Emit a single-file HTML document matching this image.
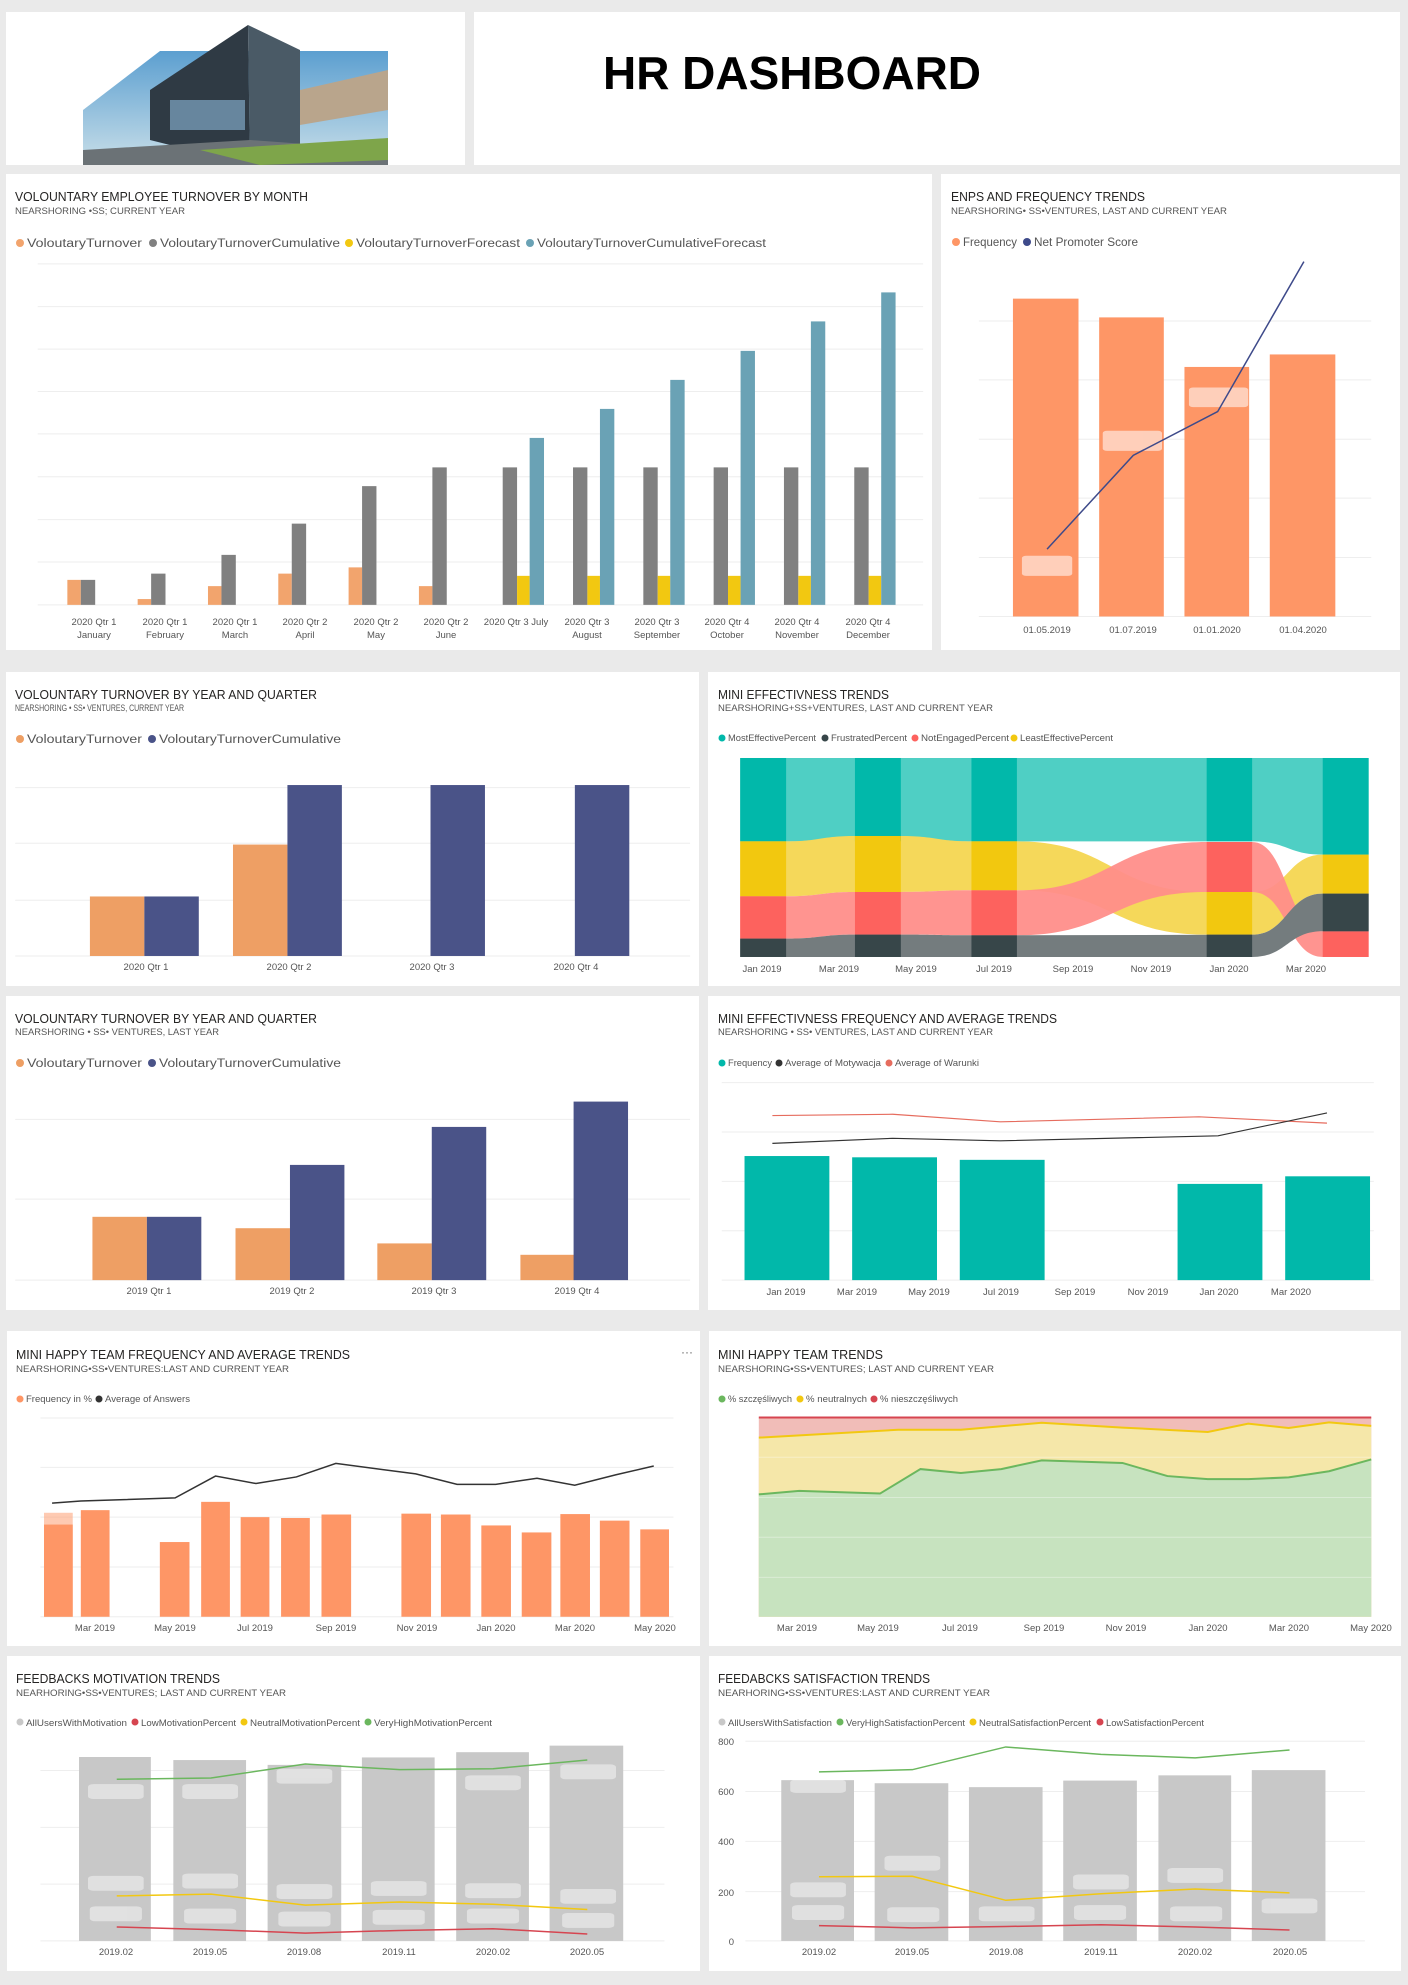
<!DOCTYPE html>
<html><head><meta charset="utf-8"><style>
html,body{margin:0;padding:0;background:#eaeaea;}
svg{display:block;font-family:"Liberation Sans",Arial,sans-serif;}
.t{font-size:13px;fill:#252423;}
.s{font-size:9.5px;fill:#555;}
.l{font-size:11.5px;fill:#555;}
.ls{font-size:9.5px;fill:#555;}
.ax{font-size:9.5px;fill:#555;text-anchor:middle;}
</style></head><body>
<svg width="1408" height="1985" viewBox="0 0 1408 1985" xmlns="http://www.w3.org/2000/svg">
<defs>
<filter id="bl"><feGaussianBlur stdDeviation="2"/></filter>
<linearGradient id="sky" x1="0" y1="0" x2="0" y2="1"><stop offset="0" stop-color="#5c9fd0"/><stop offset="1" stop-color="#c9dfe9"/></linearGradient>
</defs>
<rect width="1408" height="1985" fill="#eaeaea"/>
<!-- panels -->
<rect x="6" y="12" width="459" height="153" fill="#fff"/>
<rect x="474" y="12" width="926" height="153" fill="#fff"/>
<rect x="6" y="174" width="926" height="476" fill="#fff"/>
<rect x="941" y="174" width="459" height="476" fill="#fff"/>
<rect x="6" y="672" width="693" height="314" fill="#fff"/>
<rect x="708" y="672" width="692" height="314" fill="#fff"/>
<rect x="6" y="996" width="693" height="314" fill="#fff"/>
<rect x="708" y="996" width="692" height="314" fill="#fff"/>
<rect x="7" y="1331" width="693" height="315" fill="#fff"/>
<rect x="709" y="1331" width="692" height="315" fill="#fff"/>
<rect x="7" y="1656" width="693" height="315" fill="#fff"/>
<rect x="709" y="1656" width="692" height="315" fill="#fff"/>

<!-- header image -->
<rect x="83" y="51" width="305" height="114" fill="url(#sky)"/>
<polygon points="83,51 160,51 83,110" fill="#fff"/>
<polygon points="150,90 248,25 250,165 150,140" fill="#2f3a44"/>
<polygon points="248,25 300,50 300,150 250,165" fill="#4a5a66"/>
<polygon points="300,90 388,70 388,110 300,125" fill="#b9a58c"/>
<rect x="170" y="100" width="75" height="30" fill="#7fa7c4" opacity="0.7"/>
<polygon points="83,150 250,140 388,150 388,165 83,165" fill="#6b7276"/>
<polygon points="200,150 388,138 388,160 260,165" fill="#7ea54a"/>
<text x="792" y="89" text-anchor="middle" font-size="46" font-weight="bold" fill="#000" textLength="378" lengthAdjust="spacingAndGlyphs">HR DASHBOARD</text>

<!-- PANEL A -->
<text class="t" x="15" y="201" textLength="293" lengthAdjust="spacingAndGlyphs">VOLOUNTARY EMPLOYEE TURNOVER BY MONTH</text>
<text class="s" x="15" y="214" textLength="170" lengthAdjust="spacingAndGlyphs">NEARSHORING •SS; CURRENT YEAR</text>
<circle cx="20" cy="243" r="4" fill="#F2A46D"/><text class="l" x="27" y="247" textLength="115" lengthAdjust="spacingAndGlyphs">VoloutaryTurnover</text>
<circle cx="153" cy="243" r="4" fill="#808080"/><text class="l" x="160" y="247" textLength="180" lengthAdjust="spacingAndGlyphs">VoloutaryTurnoverCumulative</text>
<circle cx="349" cy="243" r="4" fill="#F2C811"/><text class="l" x="356" y="247" textLength="164" lengthAdjust="spacingAndGlyphs">VoloutaryTurnoverForecast</text>
<circle cx="530" cy="243" r="4" fill="#6AA2B5"/><text class="l" x="537" y="247" textLength="229" lengthAdjust="spacingAndGlyphs">VoloutaryTurnoverCumulativeForecast</text>
<g transform="scale(0.898,0.4464)">
<g stroke="#eee" stroke-width="1" vector-effect="non-scaling-stroke">
<line x1="42" x2="1028" y1="591" y2="591" vector-effect="non-scaling-stroke"/><line x1="42" x2="1028" y1="687" y2="687" vector-effect="non-scaling-stroke"/><line x1="42" x2="1028" y1="782" y2="782" vector-effect="non-scaling-stroke"/><line x1="42" x2="1028" y1="877" y2="877" vector-effect="non-scaling-stroke"/><line x1="42" x2="1028" y1="972" y2="972" vector-effect="non-scaling-stroke"/><line x1="42" x2="1028" y1="1068" y2="1068" vector-effect="non-scaling-stroke"/><line x1="42" x2="1028" y1="1164" y2="1164" vector-effect="non-scaling-stroke"/><line x1="42" x2="1028" y1="1259" y2="1259" vector-effect="non-scaling-stroke"/><line x1="42" x2="1028" y1="1355" y2="1355" vector-effect="non-scaling-stroke"/>
</g>
<g fill="#F2A46D">
<rect x="75" y="1299" width="15" height="56"/><rect x="153.3" y="1342" width="15" height="13"/><rect x="231.6" y="1313" width="15" height="42"/><rect x="309.9" y="1285" width="15" height="70"/><rect x="388.2" y="1271" width="15" height="84"/><rect x="466.5" y="1313" width="15" height="42"/>
</g>
<g fill="#808080">
<rect x="90" y="1299" width="16" height="56"/><rect x="168.3" y="1285" width="16" height="70"/><rect x="246.6" y="1243" width="16" height="112"/><rect x="324.9" y="1173" width="16" height="182"/><rect x="403.2" y="1089" width="16" height="266"/><rect x="481.5" y="1047" width="16" height="308"/>
<rect x="559.8" y="1047" width="16" height="308"/><rect x="638.1" y="1047" width="16" height="308"/><rect x="716.4" y="1047" width="16" height="308"/><rect x="794.7" y="1047" width="16" height="308"/><rect x="873" y="1047" width="16" height="308"/><rect x="951.3" y="1047" width="16" height="308"/>
</g>
<g fill="#F2C811">
<rect x="575.8" y="1290" width="14" height="65"/><rect x="654.1" y="1290" width="14" height="65"/><rect x="732.4" y="1290" width="14" height="65"/><rect x="810.7" y="1290" width="14" height="65"/><rect x="889" y="1290" width="14" height="65"/><rect x="967.3" y="1290" width="14" height="65"/>
</g>
<g fill="#6AA2B5">
<rect x="589.8" y="981" width="16" height="374"/><rect x="668.1" y="916" width="16" height="439"/><rect x="746.4" y="851" width="16" height="504"/><rect x="824.7" y="786" width="16" height="569"/><rect x="903" y="720" width="16" height="635"/><rect x="981.3" y="655" width="16" height="700"/>
</g>
<!-- panel B -->
<g stroke="#eee" stroke-width="1">
<line x1="1090" x2="1527" y1="719" y2="719" vector-effect="non-scaling-stroke"/><line x1="1090" x2="1527" y1="851" y2="851" vector-effect="non-scaling-stroke"/><line x1="1090" x2="1527" y1="984" y2="984" vector-effect="non-scaling-stroke"/><line x1="1090" x2="1527" y1="1116" y2="1116" vector-effect="non-scaling-stroke"/><line x1="1090" x2="1527" y1="1249" y2="1249" vector-effect="non-scaling-stroke"/><line x1="1090" x2="1527" y1="1381" y2="1381" vector-effect="non-scaling-stroke"/>
</g>
<g fill="#FE9666">
<rect x="1128" y="669" width="73" height="712"/><rect x="1224" y="711" width="72" height="670"/><rect x="1319" y="822" width="72" height="559"/><rect x="1414" y="794" width="73" height="587"/>
</g>
<g fill="#fff" opacity="0.55"><rect x="1138" y="1245" width="56" height="45" rx="5"/><rect x="1228" y="965" width="66" height="45" rx="5"/><rect x="1324" y="868" width="66" height="44" rx="5"/></g>
<polyline points="1166,1230 1262,1020 1356,922 1452,586" fill="none" stroke="#3E4A8A" stroke-width="1.5" vector-effect="non-scaling-stroke"/>
</g>
<g class="ax" font-size="9">
<text x="94" y="625">2020 Qtr 1</text><text x="94" y="638">January</text>
<text x="165" y="625">2020 Qtr 1</text><text x="165" y="638">February</text>
<text x="235" y="625">2020 Qtr 1</text><text x="235" y="638">March</text>
<text x="305" y="625">2020 Qtr 2</text><text x="305" y="638">April</text>
<text x="376" y="625">2020 Qtr 2</text><text x="376" y="638">May</text>
<text x="446" y="625">2020 Qtr 2</text><text x="446" y="638">June</text>
<text x="516" y="625">2020 Qtr 3 July</text>
<text x="587" y="625">2020 Qtr 3</text><text x="587" y="638">August</text>
<text x="657" y="625">2020 Qtr 3</text><text x="657" y="638">September</text>
<text x="727" y="625">2020 Qtr 4</text><text x="727" y="638">October</text>
<text x="797" y="625">2020 Qtr 4</text><text x="797" y="638">November</text>
<text x="868" y="625">2020 Qtr 4</text><text x="868" y="638">December</text>
</g>
<text class="t" x="951" y="201" textLength="194" lengthAdjust="spacingAndGlyphs">ENPS AND FREQUENCY TRENDS</text>
<text class="s" x="951" y="214" textLength="276" lengthAdjust="spacingAndGlyphs">NEARSHORING• SS•VENTURES, LAST AND CURRENT YEAR</text>
<circle cx="956" cy="242" r="4" fill="#FE9666"/><text class="l" x="963" y="246" textLength="54" lengthAdjust="spacingAndGlyphs">Frequency</text>
<circle cx="1027" cy="242" r="4" fill="#3E4A8A"/><text class="l" x="1034" y="246" textLength="104" lengthAdjust="spacingAndGlyphs">Net Promoter Score</text>
<g class="ax" font-size="12" fill="#555"><text x="1047" y="633">01.05.2019</text><text x="1133" y="633">01.07.2019</text><text x="1217" y="633">01.01.2020</text><text x="1303" y="633">01.04.2020</text></g>

<!-- ROW 2 LEFT -->
<text class="t" x="15" y="699" textLength="302" lengthAdjust="spacingAndGlyphs">VOLOUNTARY TURNOVER BY YEAR AND QUARTER</text>
<text class="s" x="15" y="711" textLength="169" lengthAdjust="spacingAndGlyphs">NEARSHORING • SS• VENTURES, CURRENT YEAR</text>
<circle cx="20" cy="739" r="4" fill="#EE9F64"/><text class="l" x="27" y="743" textLength="115" lengthAdjust="spacingAndGlyphs">VoloutaryTurnover</text>
<circle cx="152" cy="739" r="4" fill="#4A5388"/><text class="l" x="159" y="743" textLength="182" lengthAdjust="spacingAndGlyphs">VoloutaryTurnoverCumulative</text>
<g transform="scale(1.2662)">
<g stroke="#eee" stroke-width="0.8"><line x1="12" x2="545" y1="622" y2="622"/><line x1="12" x2="545" y1="666" y2="666"/><line x1="12" x2="545" y1="711" y2="711"/><line x1="12" x2="545" y1="755" y2="755"/></g>
<g fill="#EE9F64"><rect x="71" y="708" width="43" height="47"/><rect x="184" y="667" width="43" height="88"/></g>
<g fill="#4A5388"><rect x="114" y="708" width="43" height="47"/><rect x="227" y="620" width="43" height="135"/><rect x="340" y="620" width="43" height="135"/><rect x="454" y="620" width="43" height="135"/></g>
<!-- ROW 3 LEFT -->
<g stroke="#eee" stroke-width="0.8"><line x1="12" x2="545" y1="884" y2="884"/><line x1="12" x2="545" y1="947" y2="947"/><line x1="12" x2="545" y1="1011" y2="1011"/></g>
<g fill="#EE9F64"><rect x="73" y="961" width="43" height="50"/><rect x="186" y="970" width="43" height="41"/><rect x="298" y="982" width="43" height="29"/><rect x="411" y="991" width="43" height="20"/></g>
<g fill="#4A5388"><rect x="116" y="961" width="43" height="50"/><rect x="229" y="920" width="43" height="91"/><rect x="341" y="890" width="43" height="121"/><rect x="453" y="870" width="43" height="141"/></g>
<!-- ROW 3 RIGHT -->
<g stroke="#eee" stroke-width="0.8"><line x1="570" x2="1085" y1="855" y2="855"/><line x1="570" x2="1085" y1="894" y2="894"/><line x1="570" x2="1085" y1="933" y2="933"/><line x1="570" x2="1085" y1="972" y2="972"/><line x1="570" x2="1085" y1="1011" y2="1011"/></g>
<g fill="#01B8AA"><rect x="588" y="913" width="67" height="98"/><rect x="673" y="914" width="67" height="97"/><rect x="758" y="916" width="67" height="95"/><rect x="930" y="935" width="67" height="76"/><rect x="1015" y="929" width="67" height="82"/></g>
<polyline points="610,881 705,880 790,886 947,882 1048,887" fill="none" stroke="#E66C5E" stroke-width="0.9"/>
<polyline points="610,903 705,899 790,901 962,897 1048,879" fill="none" stroke="#333" stroke-width="0.9"/>
</g>
<g class="ax"><text x="146" y="970">2020 Qtr 1</text><text x="289" y="970">2020 Qtr 2</text><text x="432" y="970">2020 Qtr 3</text><text x="576" y="970">2020 Qtr 4</text></g>
<text class="t" x="15" y="1023" textLength="302" lengthAdjust="spacingAndGlyphs">VOLOUNTARY TURNOVER BY YEAR AND QUARTER</text>
<text class="s" x="15" y="1035" textLength="204" lengthAdjust="spacingAndGlyphs">NEARSHORING • SS• VENTURES, LAST YEAR</text>
<circle cx="20" cy="1063" r="4" fill="#EE9F64"/><text class="l" x="27" y="1067" textLength="115" lengthAdjust="spacingAndGlyphs">VoloutaryTurnover</text>
<circle cx="152" cy="1063" r="4" fill="#4A5388"/><text class="l" x="159" y="1067" textLength="182" lengthAdjust="spacingAndGlyphs">VoloutaryTurnoverCumulative</text>
<g class="ax"><text x="149" y="1294">2019 Qtr 1</text><text x="292" y="1294">2019 Qtr 2</text><text x="434" y="1294">2019 Qtr 3</text><text x="577" y="1294">2019 Qtr 4</text></g>
<text class="t" x="718" y="1023" textLength="339" lengthAdjust="spacingAndGlyphs">MINI EFFECTIVNESS FREQUENCY AND AVERAGE TRENDS</text>
<text class="s" x="718" y="1035" textLength="275" lengthAdjust="spacingAndGlyphs">NEARSHORING • SS• VENTURES, LAST AND CURRENT YEAR</text>
<circle cx="722" cy="1063" r="3.5" fill="#01B8AA"/><text class="ls" x="728" y="1066" textLength="44" lengthAdjust="spacingAndGlyphs">Frequency</text>
<circle cx="779" cy="1063" r="3.5" fill="#333"/><text class="ls" x="785" y="1066" textLength="96" lengthAdjust="spacingAndGlyphs">Average of Motywacja</text>
<circle cx="889" cy="1063" r="3.5" fill="#E66C5E"/><text class="ls" x="895" y="1066" textLength="84" lengthAdjust="spacingAndGlyphs">Average of Warunki</text>
<g class="ax"><text x="786" y="1295">Jan 2019</text><text x="857" y="1295">Mar 2019</text><text x="929" y="1295">May 2019</text><text x="1001" y="1295">Jul 2019</text><text x="1075" y="1295">Sep 2019</text><text x="1148" y="1295">Nov 2019</text><text x="1219" y="1295">Jan 2020</text><text x="1291" y="1295">Mar 2020</text></g>

<!-- ROW 2 RIGHT ribbon -->
<text class="t" x="718" y="699" textLength="171" lengthAdjust="spacingAndGlyphs">MINI EFFECTIVNESS TRENDS</text>
<text class="s" x="718" y="711" textLength="275" lengthAdjust="spacingAndGlyphs">NEARSHORING+SS+VENTURES, LAST AND CURRENT YEAR</text>
<circle cx="722" cy="738" r="3.5" fill="#01B8AA"/><text class="ls" x="728" y="741" textLength="88" lengthAdjust="spacingAndGlyphs">MostEffectivePercent</text>
<circle cx="825" cy="738" r="3.5" fill="#374649"/><text class="ls" x="831" y="741" textLength="76" lengthAdjust="spacingAndGlyphs">FrustratedPercent</text>
<circle cx="915" cy="738" r="3.5" fill="#FD625E"/><text class="ls" x="921" y="741" textLength="88" lengthAdjust="spacingAndGlyphs">NotEngagedPercent</text>
<circle cx="1014" cy="738" r="3.5" fill="#F2C80F"/><text class="ls" x="1020" y="741" textLength="93" lengthAdjust="spacingAndGlyphs">LeastEffectivePercent</text>
<g transform="translate(708,672) scale(0.4413,0.3333)">
<path fill="#4FCFC4" d="M73,258 L1497,258 L1497,548 L1393,548 C1313,548 1313,508 1233,508 L73,508 Z"/>
<path fill="#F5D85A" d="M73,508 L177,508 C255,508 255,492 333,492 L437,492 C517,492 517,508 597,508 L700,508 C915,508 915,660 1130,660 L1233,660 C1313,660 1313,548 1393,548 L1497,548 L1497,665 L1393,665 C1313,665 1313,788 1233,788 L1130,788 C915,788 915,655 700,655 L597,655 C517,655 517,660 437,660 L333,660 C255,660 255,673 177,673 L73,673 Z"/>
<path fill="#FF8E8A" opacity="0.95" d="M73,673 L177,673 C255,673 255,660 333,660 L437,660 C517,660 517,655 597,655 L700,655 C915,655 915,510 1130,510 L1233,510 C1313,510 1313,778 1393,778 L1497,778 L1497,855 L1393,855 C1313,855 1313,660 1233,660 L1130,660 C915,660 915,790 700,790 L597,790 C517,790 517,788 437,788 L333,788 C255,788 255,800 177,800 L73,800 Z"/>
<path fill="#747C7E" d="M73,800 L177,800 C255,800 255,788 333,788 L437,788 C517,788 517,790 597,790 L700,790 L1233,788 C1313,788 1313,665 1393,665 L1497,665 L1497,778 L1393,778 C1313,778 1313,855 1233,855 L73,855 Z"/>
<g fill="#01B8AA"><rect x="73" y="258" width="104" height="250"/><rect x="333" y="258" width="104" height="250"/><rect x="597" y="258" width="103" height="250"/><rect x="1130" y="258" width="103" height="250"/><rect x="1393" y="258" width="104" height="290"/></g>
<g fill="#F2C80F"><rect x="73" y="508" width="104" height="165"/><rect x="333" y="492" width="104" height="168"/><rect x="597" y="508" width="103" height="147"/><rect x="1130" y="660" width="103" height="128"/><rect x="1393" y="548" width="104" height="117"/></g>
<g fill="#FD625E"><rect x="73" y="673" width="104" height="127"/><rect x="333" y="660" width="104" height="128"/><rect x="597" y="655" width="103" height="135"/><rect x="1130" y="510" width="103" height="150"/><rect x="1393" y="778" width="104" height="77"/></g>
<g fill="#374649"><rect x="73" y="800" width="104" height="55"/><rect x="333" y="788" width="104" height="67"/><rect x="597" y="790" width="103" height="65"/><rect x="1130" y="788" width="103" height="67"/><rect x="1393" y="665" width="104" height="113"/></g>
</g>
<g class="ax"><text x="762" y="972">Jan 2019</text><text x="839" y="972">Mar 2019</text><text x="916" y="972">May 2019</text><text x="994" y="972">Jul 2019</text><text x="1073" y="972">Sep 2019</text><text x="1151" y="972">Nov 2019</text><text x="1229" y="972">Jan 2020</text><text x="1306" y="972">Mar 2020</text></g>

<!-- ROW 4 & 5 -->
<text class="t" x="16" y="1359" textLength="334" lengthAdjust="spacingAndGlyphs">MINI HAPPY TEAM FREQUENCY AND AVERAGE TRENDS</text>
<text class="s" x="16" y="1372" textLength="273" lengthAdjust="spacingAndGlyphs">NEARSHORING•SS•VENTURES:LAST AND CURRENT YEAR</text>
<text x="681" y="1356" font-size="12" fill="#666">···</text>
<circle cx="20" cy="1399" r="3.5" fill="#FE9666"/><text class="ls" x="26" y="1402" textLength="66" lengthAdjust="spacingAndGlyphs">Frequency in %</text>
<circle cx="99" cy="1399" r="3.5" fill="#333"/><text class="ls" x="105" y="1402" textLength="85" lengthAdjust="spacingAndGlyphs">Average of Answers</text>
<text class="t" x="718" y="1359" textLength="165" lengthAdjust="spacingAndGlyphs">MINI HAPPY TEAM TRENDS</text>
<text class="s" x="718" y="1372" textLength="276" lengthAdjust="spacingAndGlyphs">NEARSHORING•SS•VENTURES; LAST AND CURRENT YEAR</text>
<circle cx="722" cy="1399" r="3.5" fill="#6BB75E"/><text class="ls" x="728" y="1402" textLength="64" lengthAdjust="spacingAndGlyphs">% szczęśliwych</text>
<circle cx="800" cy="1399" r="3.5" fill="#F2C811"/><text class="ls" x="806" y="1402" textLength="61" lengthAdjust="spacingAndGlyphs">% neutralnych</text>
<circle cx="874" cy="1399" r="3.5" fill="#D64550"/><text class="ls" x="880" y="1402" textLength="78" lengthAdjust="spacingAndGlyphs">% nieszczęśliwych</text>

<text class="t" x="16" y="1683" textLength="204" lengthAdjust="spacingAndGlyphs">FEEDBACKS MOTIVATION TRENDS</text>
<text class="s" x="16" y="1696" textLength="270" lengthAdjust="spacingAndGlyphs">NEARHORING•SS•VENTURES; LAST AND CURRENT YEAR</text>
<circle cx="20" cy="1722" r="3.5" fill="#C8C8C8"/><text class="ls" x="26" y="1726" textLength="101" lengthAdjust="spacingAndGlyphs">AllUsersWithMotivation</text>
<circle cx="135" cy="1722" r="3.5" fill="#D64550"/><text class="ls" x="141" y="1726" textLength="95" lengthAdjust="spacingAndGlyphs">LowMotivationPercent</text>
<circle cx="244" cy="1722" r="3.5" fill="#F2C811"/><text class="ls" x="250" y="1726" textLength="110" lengthAdjust="spacingAndGlyphs">NeutralMotivationPercent</text>
<circle cx="368" cy="1722" r="3.5" fill="#6BB75E"/><text class="ls" x="374" y="1726" textLength="118" lengthAdjust="spacingAndGlyphs">VeryHighMotivationPercent</text>
<text class="t" x="718" y="1683" textLength="212" lengthAdjust="spacingAndGlyphs">FEEDABCKS SATISFACTION TRENDS</text>
<text class="s" x="718" y="1696" textLength="272" lengthAdjust="spacingAndGlyphs">NEARHORING•SS•VENTURES:LAST AND CURRENT YEAR</text>
<circle cx="722" cy="1722" r="3.5" fill="#C8C8C8"/><text class="ls" x="728" y="1726" textLength="104" lengthAdjust="spacingAndGlyphs">AllUsersWithSatisfaction</text>
<circle cx="840" cy="1722" r="3.5" fill="#6BB75E"/><text class="ls" x="846" y="1726" textLength="119" lengthAdjust="spacingAndGlyphs">VeryHighSatisfactionPercent</text>
<circle cx="973" cy="1722" r="3.5" fill="#F2C811"/><text class="ls" x="979" y="1726" textLength="112" lengthAdjust="spacingAndGlyphs">NeutralSatisfactionPercent</text>
<circle cx="1100" cy="1722" r="3.5" fill="#D64550"/><text class="ls" x="1106" y="1726" textLength="98" lengthAdjust="spacingAndGlyphs">LowSatisfactionPercent</text>

<g transform="translate(0,1300) scale(0.898,0.4369)">
<!-- row4 left -->
<g stroke="#eee"><line x1="45" x2="750" y1="270" y2="270" vector-effect="non-scaling-stroke"/><line x1="45" x2="750" y1="383" y2="383" vector-effect="non-scaling-stroke"/><line x1="45" x2="750" y1="497" y2="497" vector-effect="non-scaling-stroke"/><line x1="45" x2="750" y1="611" y2="611" vector-effect="non-scaling-stroke"/><line x1="45" x2="750" y1="725" y2="725" vector-effect="non-scaling-stroke"/></g>
<g fill="#FE9666">
<rect x="49" y="487" width="32" height="238" opacity="0.5"/><rect x="49" y="514" width="32" height="211"/><rect x="90" y="481" width="32" height="244"/><rect x="178" y="554" width="33" height="171"/><rect x="224" y="462" width="32" height="263"/><rect x="268" y="497" width="32" height="228"/><rect x="313" y="499" width="32" height="226"/><rect x="358" y="491" width="33" height="234"/><rect x="447" y="489" width="33" height="236"/><rect x="491" y="491" width="33" height="234"/><rect x="536" y="516" width="33" height="209"/><rect x="581" y="532" width="33" height="193"/><rect x="624" y="490" width="33" height="235"/><rect x="668" y="505" width="33" height="220"/><rect x="713" y="525" width="32" height="200"/>
</g>
<polyline points="58,465 90,460 195,453 240,403 285,420 330,405 374,374 463,398 509,422 552,422 598,408 640,424 686,400 728,380" fill="none" stroke="#333" stroke-width="1.5" vector-effect="non-scaling-stroke"/>
<!-- row4 right -->
<rect x="845" y="268" width="682" height="457" fill="#F1BDB8"/>
<path d="M845,315 L1000,297 L1070,297 L1160,281 L1250,292 L1345,302 L1390,283 L1435,293 L1480,280 L1527,288 L1527,725 L845,725 Z" fill="#F5E7A9"/>
<path d="M845,445 L890,437 L980,443 L1025,387 L1070,396 L1115,387 L1160,367 L1250,373 L1300,403 L1345,410 L1390,410 L1435,406 L1480,392 L1527,365 L1527,725 L845,725 Z" fill="#C7E3BF"/>
<g stroke="#fff" opacity="0.35"><line x1="845" x2="1527" y1="360" y2="360" vector-effect="non-scaling-stroke"/><line x1="845" x2="1527" y1="452" y2="452" vector-effect="non-scaling-stroke"/><line x1="845" x2="1527" y1="543" y2="543" vector-effect="non-scaling-stroke"/><line x1="845" x2="1527" y1="635" y2="635" vector-effect="non-scaling-stroke"/></g>
<line x1="845" x2="1527" y1="269" y2="269" stroke="#D64550" stroke-width="2" vector-effect="non-scaling-stroke"/>
<polyline points="845,315 1000,297 1070,297 1160,281 1250,292 1345,302 1390,283 1435,293 1480,280 1527,288" fill="none" stroke="#F2C811" stroke-width="2" vector-effect="non-scaling-stroke"/>
<polyline points="845,445 890,437 980,443 1025,387 1070,396 1115,387 1160,367 1250,373 1300,403 1345,410 1390,410 1435,406 1480,392 1527,365" fill="none" stroke="#6BB75E" stroke-width="2" vector-effect="non-scaling-stroke"/>
<!-- row5 left -->
<g stroke="#eee"><line x1="45" x2="740" y1="1077" y2="1077" vector-effect="non-scaling-stroke"/><line x1="45" x2="740" y1="1207" y2="1207" vector-effect="non-scaling-stroke"/><line x1="45" x2="740" y1="1337" y2="1337" vector-effect="non-scaling-stroke"/><line x1="45" x2="740" y1="1467" y2="1467" vector-effect="non-scaling-stroke"/></g>
<g fill="#C8C8C8"><rect x="88" y="1046" width="80" height="421"/><rect x="193" y="1053" width="81" height="414"/><rect x="298" y="1064" width="82" height="403"/><rect x="403" y="1047" width="81" height="420"/><rect x="508" y="1035" width="81" height="432"/><rect x="612" y="1020" width="82" height="447"/></g>
<g fill="#fff" opacity="0.45">
<rect x="98" y="1318" width="62" height="34" rx="6"/><rect x="203" y="1313" width="62" height="34" rx="6"/><rect x="308" y="1337" width="62" height="34" rx="6"/><rect x="413" y="1330" width="62" height="34" rx="6"/><rect x="518" y="1335" width="62" height="34" rx="6"/><rect x="624" y="1348" width="62" height="34" rx="6"/>
<rect x="100" y="1388" width="58" height="34" rx="6"/><rect x="205" y="1393" width="58" height="34" rx="6"/><rect x="310" y="1400" width="58" height="34" rx="6"/><rect x="415" y="1396" width="58" height="34" rx="6"/><rect x="520" y="1393" width="58" height="34" rx="6"/><rect x="626" y="1403" width="58" height="34" rx="6"/>
<rect x="98" y="1108" width="62" height="34" rx="6"/><rect x="203" y="1108" width="62" height="34" rx="6"/><rect x="308" y="1073" width="62" height="34" rx="6"/><rect x="518" y="1088" width="62" height="34" rx="6"/><rect x="624" y="1063" width="62" height="34" rx="6"/>
</g>
<polyline points="130,1097 235,1094 340,1062 445,1075 549,1073 654,1053" fill="none" stroke="#6BB75E" stroke-width="1.5" vector-effect="non-scaling-stroke"/>
<polyline points="130,1364 235,1360 340,1385 445,1378 549,1383 654,1395" fill="none" stroke="#F2C811" stroke-width="1.5" vector-effect="non-scaling-stroke"/>
<polyline points="130,1435 235,1441 340,1449 445,1443 549,1439 654,1451" fill="none" stroke="#D64550" stroke-width="1.5" vector-effect="non-scaling-stroke"/>
<!-- row5 right -->
<g stroke="#eee"><line x1="830" x2="1520" y1="1010" y2="1010" vector-effect="non-scaling-stroke"/><line x1="830" x2="1520" y1="1125" y2="1125" vector-effect="non-scaling-stroke"/><line x1="830" x2="1520" y1="1239" y2="1239" vector-effect="non-scaling-stroke"/><line x1="830" x2="1520" y1="1354" y2="1354" vector-effect="non-scaling-stroke"/><line x1="830" x2="1520" y1="1467" y2="1467" vector-effect="non-scaling-stroke"/></g>
<g fill="#C8C8C8"><rect x="870" y="1099" width="81" height="368"/><rect x="974" y="1106" width="82" height="361"/><rect x="1079" y="1115" width="82" height="352"/><rect x="1184" y="1100" width="82" height="367"/><rect x="1290" y="1088" width="81" height="379"/><rect x="1394" y="1076" width="82" height="391"/></g>
<g fill="#fff" opacity="0.45">
<rect x="880" y="1333" width="62" height="34" rx="6"/><rect x="985" y="1272" width="62" height="34" rx="6"/><rect x="1195" y="1315" width="62" height="34" rx="6"/><rect x="1300" y="1300" width="62" height="34" rx="6"/>
<rect x="882" y="1385" width="58" height="34" rx="6"/><rect x="988" y="1390" width="58" height="34" rx="6"/><rect x="1090" y="1388" width="62" height="34" rx="6"/><rect x="1196" y="1385" width="58" height="34" rx="6"/><rect x="1303" y="1388" width="58" height="34" rx="6"/><rect x="1405" y="1370" width="62" height="34" rx="6"/><rect x="880" y="1098" width="62" height="30" rx="6"/>
</g>
<polyline points="912,1080 1016,1075 1120,1023 1226,1040 1331,1048 1436,1030" fill="none" stroke="#6BB75E" stroke-width="1.5" vector-effect="non-scaling-stroke"/>
<polyline points="912,1320 1016,1319 1120,1374 1226,1359 1331,1348 1436,1357" fill="none" stroke="#F2C811" stroke-width="1.5" vector-effect="non-scaling-stroke"/>
<polyline points="912,1432 1016,1437 1120,1434 1226,1430 1331,1435 1436,1442" fill="none" stroke="#D64550" stroke-width="1.5" vector-effect="non-scaling-stroke"/>
</g>
<g class="ax"><text x="95" y="1631">Mar 2019</text><text x="175" y="1631">May 2019</text><text x="255" y="1631">Jul 2019</text><text x="336" y="1631">Sep 2019</text><text x="417" y="1631">Nov 2019</text><text x="496" y="1631">Jan 2020</text><text x="575" y="1631">Mar 2020</text><text x="655" y="1631">May 2020</text></g>
<g class="ax"><text x="797" y="1631">Mar 2019</text><text x="878" y="1631">May 2019</text><text x="960" y="1631">Jul 2019</text><text x="1044" y="1631">Sep 2019</text><text x="1126" y="1631">Nov 2019</text><text x="1208" y="1631">Jan 2020</text><text x="1289" y="1631">Mar 2020</text><text x="1371" y="1631">May 2020</text></g>
<g class="ax"><text x="116" y="1955">2019.02</text><text x="210" y="1955">2019.05</text><text x="304" y="1955">2019.08</text><text x="399" y="1955">2019.11</text><text x="493" y="1955">2020.02</text><text x="587" y="1955">2020.05</text></g>
<g class="ax"><text x="819" y="1955">2019.02</text><text x="912" y="1955">2019.05</text><text x="1006" y="1955">2019.08</text><text x="1101" y="1955">2019.11</text><text x="1195" y="1955">2020.02</text><text x="1290" y="1955">2020.05</text></g>
<g font-size="9.5" fill="#555" text-anchor="end"><text x="734" y="1745">800</text><text x="734" y="1795">600</text><text x="734" y="1845">400</text><text x="734" y="1896">200</text><text x="734" y="1945">0</text></g>
</svg>
</body></html>
